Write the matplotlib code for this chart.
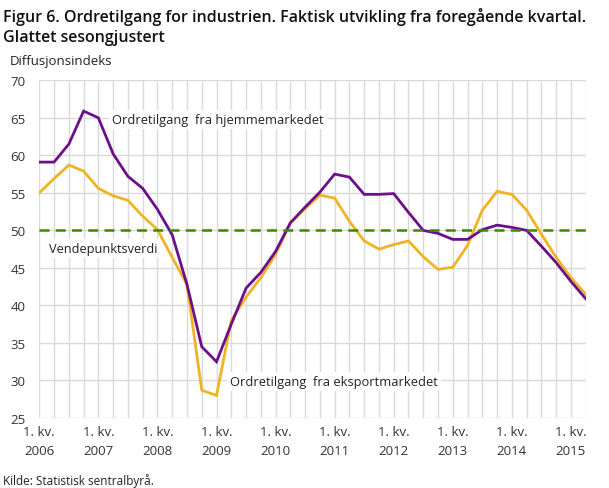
import matplotlib
matplotlib.use("Agg")
import matplotlib.pyplot as plt
import numpy as np

# Quarterly data, 2006 Q1 - 2015 Q2
hjemme = [59.1, 59.1, 61.5, 65.9, 65.0, 60.2, 57.2, 55.6, 52.8, 49.4,
          42.8, 34.5, 32.5, 37.5, 42.3, 44.4, 47.2, 51.0, 53.1, 55.1,
          57.5, 57.1, 54.8, 54.8, 54.9, 52.4, 50.0, 49.6, 48.8, 48.8,
          50.1, 50.7, 50.4, 50.0, 47.9, 45.7, 43.2, 40.9]
eksport = [55.0, 56.9, 58.7, 57.9, 55.6, 54.6, 54.0, 51.9, 50.1, 46.4,
           42.8, 28.7, 28.0, 38.0, 41.1, 43.7, 46.8, 51.0, 52.9, 54.7,
           54.3, 51.2, 48.6, 47.5, 48.1, 48.6, 46.5, 44.8, 45.1, 48.0,
           52.7, 55.2, 54.8, 52.7, 49.5, 46.4, 43.7, 41.5]
years = [2006, 2007, 2008, 2009, 2010, 2011, 2012, 2013, 2014, 2015]
tick_labels = [f"1. kv.\n{y}" for y in years]
y_ticks = [25, 30, 35, 40, 45, 50, 55, 60, 65, 70]
vendepunkt = 50

plt.rcParams['font.family'] = ['Open Sans', 'DejaVu Sans']

W, H = 609, 489
fig = plt.figure(figsize=(W / 100, H / 100), dpi=100)
left, right, top, bottom = 39.3, 585.7, 81.3, 419.0
ax = fig.add_axes([left / W, 1 - bottom / H, (right - left) / W, (bottom - top) / H])

x = np.arange(len(hjemme))
grid_c = '#d9d9d9'
for xi in x:
    ax.axvline(xi, color=grid_c, lw=1.0, zorder=0)
for yv in y_ticks:
    ax.axhline(yv, color=grid_c, lw=1.0, zorder=0)

ax.plot(x, eksport, color='#f0b323', lw=2.0, zorder=3, solid_joinstyle='miter')
ax.plot(x, hjemme, color='#6b0f8b', lw=2.0, zorder=4, solid_joinstyle='miter')
ax.axhline(vendepunkt, color='#3b8a00', lw=1.8, ls=(0, (4, 2.5)), zorder=5)

ax.set_xlim(0, len(hjemme) - 1)
ax.set_ylim(25, 70)
ax.set_yticks(y_ticks)
ax.set_yticklabels([str(v) for v in y_ticks])
ax.set_xticks(np.arange(0, len(hjemme), 4))
ax.set_xticklabels(tick_labels, linespacing=1.6)
ax.tick_params(axis='both', length=0, labelsize=9.5, colors='#333333')
ax.tick_params(axis='y', pad=10)
ax.tick_params(axis='x', pad=5)
for s in ax.spines.values():
    s.set_visible(False)

box = dict(facecolor='white', edgecolor='none', pad=2)
ax.text(4.93, 64.75, "Ordretilgang  fra hjemmemarkedet", fontsize=9.3,
        color='#222222', va='center', ha='left', bbox=box, zorder=6)
ax.text(0.66, 47.55, "Vendepunktsverdi", fontsize=9.2,
        color='#222222', va='center', ha='left', bbox=box, zorder=6)
ax.text(12.93, 29.85, "Ordretilgang  fra eksportmarkedet", fontsize=9.3,
        color='#222222', va='center', ha='left', bbox=box, zorder=6)

fig.text(3 / W, 1 - 8 / H,
         "Figur 6. Ordretilgang for industrien. Faktisk utvikling fra foregående kvartal.\nGlattet sesongjustert",
         fontsize=11.5, fontweight='semibold', color='#111111', va='top', ha='left', linespacing=1.3)
fig.text(10 / W, 1 - 62 / H, "Diffusjonsindeks", fontsize=9.5, color='#222222',
         va='center', ha='left')
fig.text(3 / W, 1 - 481 / H, "Kilde: Statistisk sentralbyrå.", fontsize=8.5,
         color='#222222', va='center', ha='left')

fig.savefig("out.png", dpi=100, facecolor='white')
